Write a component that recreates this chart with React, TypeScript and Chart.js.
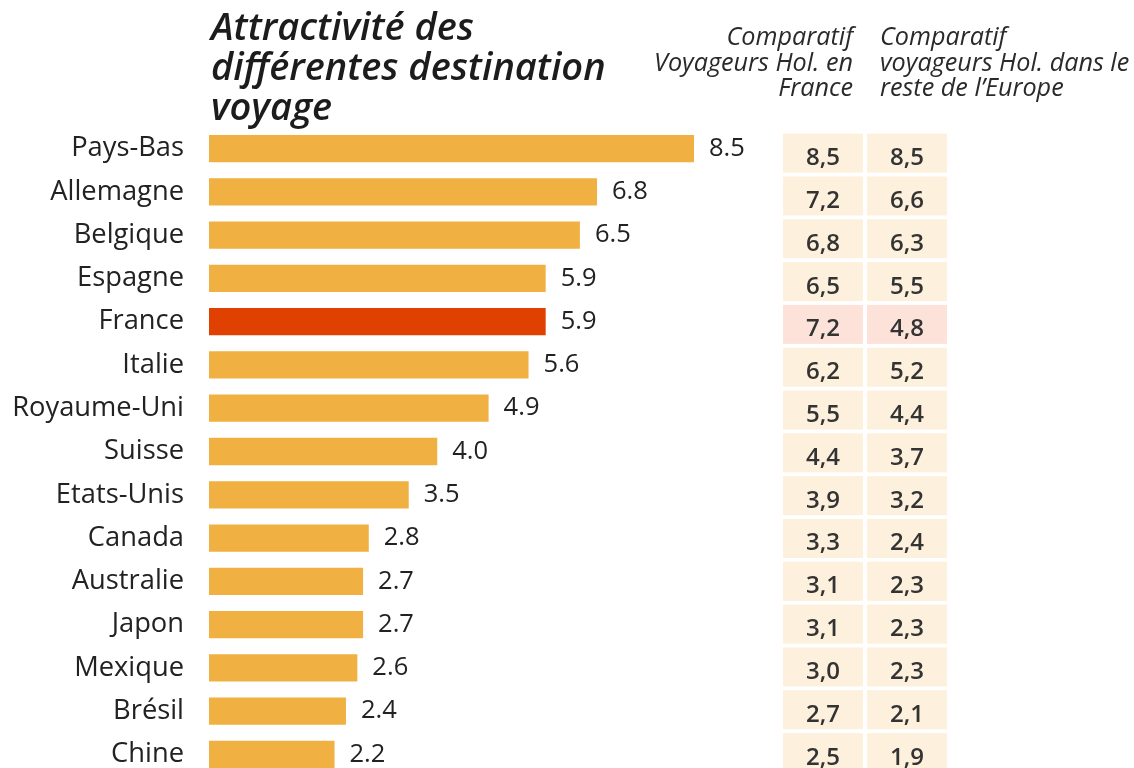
import React, { useEffect, useRef } from 'react';
import { Chart, registerables } from 'chart.js';

Chart.register(...registerables);

const categories = ['Pays-Bas', 'Allemagne', 'Belgique', 'Espagne', 'France', 'Italie', 'Royaume-Uni', 'Suisse', 'Etats-Unis', 'Canada', 'Australie', 'Japon', 'Mexique', 'Brésil', 'Chine'];
const attractivite = [8.5, 6.8, 6.5, 5.9, 5.9, 5.6, 4.9, 4.0, 3.5, 2.8, 2.7, 2.7, 2.6, 2.4, 2.2];
const comparatifFrance = [8.5, 7.2, 6.8, 6.5, 7.2, 6.2, 5.5, 4.4, 3.9, 3.3, 3.1, 3.1, 3.0, 2.7, 2.5];
const comparatifEurope = [8.5, 6.6, 6.3, 5.5, 4.8, 5.2, 4.4, 3.7, 3.2, 2.4, 2.3, 2.3, 2.3, 2.1, 1.9];
const highlighted = 'France';
const titleLines = ['Attractivité des', 'différentes destination', 'voyage'];
const headerFrance = ['Comparatif', 'Voyageurs Hol. en', 'France'];
const headerEurope = ['Comparatif', 'voyageurs Hol. dans le', 'reste de l’Europe'];

const W = 1134;
const H = 790;
const BAR = '#F0B142';
const BAR_HI = '#E04000';
const CELL = '#FDF0DD';
const CELL_HI = '#FDE2DA';

const FONT_TITLE = 'italic 600 38px "Open Sans"';
const FONT_HEADER = 'italic 400 25.2px "Open Sans"';
const FONT_LABEL = '400 27.3px "Open Sans"';
const FONT_VALUE = '400 25.5px "Open Sans"';
const FONT_CELL = '600 24px "Open Sans"';

const overlay = {
  id: 'overlay',
  afterDraw(chart: any) {
    const ctx = chart.ctx as CanvasRenderingContext2D;
    const xs = chart.scales.x;
    const ys = chart.scales.y;
    ctx.save();
    // title
    ctx.fillStyle = '#1c1c1c';
    ctx.textBaseline = 'alphabetic';
    ctx.textAlign = 'left';
    ctx.font = FONT_TITLE;
    titleLines.forEach((t, i) => ctx.fillText(t, 211, 40 + i * 40));
    // headers
    ctx.font = FONT_HEADER;
    ctx.fillStyle = '#2a2a2a';
    ctx.textAlign = 'right';
    headerFrance.forEach((t, i) => ctx.fillText(t, 853, 45 + i * 25.5));
    ctx.textAlign = 'left';
    headerEurope.forEach((t, i) => ctx.fillText(t, 880, 45 + i * 25.5));

    categories.forEach((c, i) => {
      const yc = ys.getPixelForValue(i);
      ctx.textBaseline = 'middle';
      ctx.fillStyle = '#222';
      ctx.font = FONT_LABEL;
      ctx.textAlign = 'right';
      ctx.fillText(c, 184, yc);
      const xe = xs.getPixelForValue(attractivite[i]);
      ctx.font = FONT_VALUE;
      ctx.textAlign = 'left';
      ctx.fillText(attractivite[i].toFixed(1), xe + 15, yc);
      // table cells
      const hi = c === highlighted;
      const cy = yc + 4.5 - 0.45 * i;
      const ch = 39;
      ctx.fillStyle = hi ? CELL_HI : CELL;
      ctx.fillRect(783, cy - ch / 2, 80, ch);
      ctx.fillRect(867, cy - ch / 2, 80, ch);
      ctx.fillStyle = '#333';
      ctx.font = FONT_CELL;
      ctx.textAlign = 'center';
      ctx.textBaseline = 'alphabetic';
      ctx.fillText(comparatifFrance[i].toFixed(1).replace('.', ','), 823, cy + 12);
      ctx.fillText(comparatifEurope[i].toFixed(1).replace('.', ','), 907, cy + 12);
    });
    ctx.restore();
  },
};

export default function App() {
  const ref = useRef<HTMLCanvasElement>(null);
  useEffect(() => {
    let chart: Chart | null = null;
    let cancelled = false;
    const fonts = [FONT_TITLE, FONT_HEADER, FONT_LABEL, FONT_VALUE, FONT_CELL];
    Promise.all(fonts.map((f) => (document as any).fonts.load(f)))
      .catch(() => null)
      .then(() => {
        if (cancelled || !ref.current) return;
        chart = new Chart(ref.current, {
          type: 'bar',
          data: {
            labels: categories,
            datasets: [
              {
                data: attractivite,
                backgroundColor: categories.map((c) => (c === highlighted ? BAR_HI : BAR)),
                borderWidth: 0,
                barPercentage: 0.63,
                categoryPercentage: 1,
              },
            ],
          },
          options: {
            indexAxis: 'y',
            responsive: false,
            animation: false,
            layout: { padding: { left: 209, right: 12, top: 127, bottom: 14 } },
            scales: {
              x: { display: false, min: 0, max: 16 },
              y: { display: false },
            },
            plugins: { legend: { display: false }, tooltip: { enabled: false } },
          },
          plugins: [overlay],
        } as any);
      });
    return () => {
      cancelled = true;
      if (chart) chart.destroy();
    };
  }, []);
  return (
    <div style={{ position: 'fixed', left: 0, top: 0, width: W, height: 768, overflow: 'hidden', background: '#fff' }}>
      <canvas ref={ref} width={W} height={H} style={{ display: 'block', width: W, height: H }} />
    </div>
  );
}
